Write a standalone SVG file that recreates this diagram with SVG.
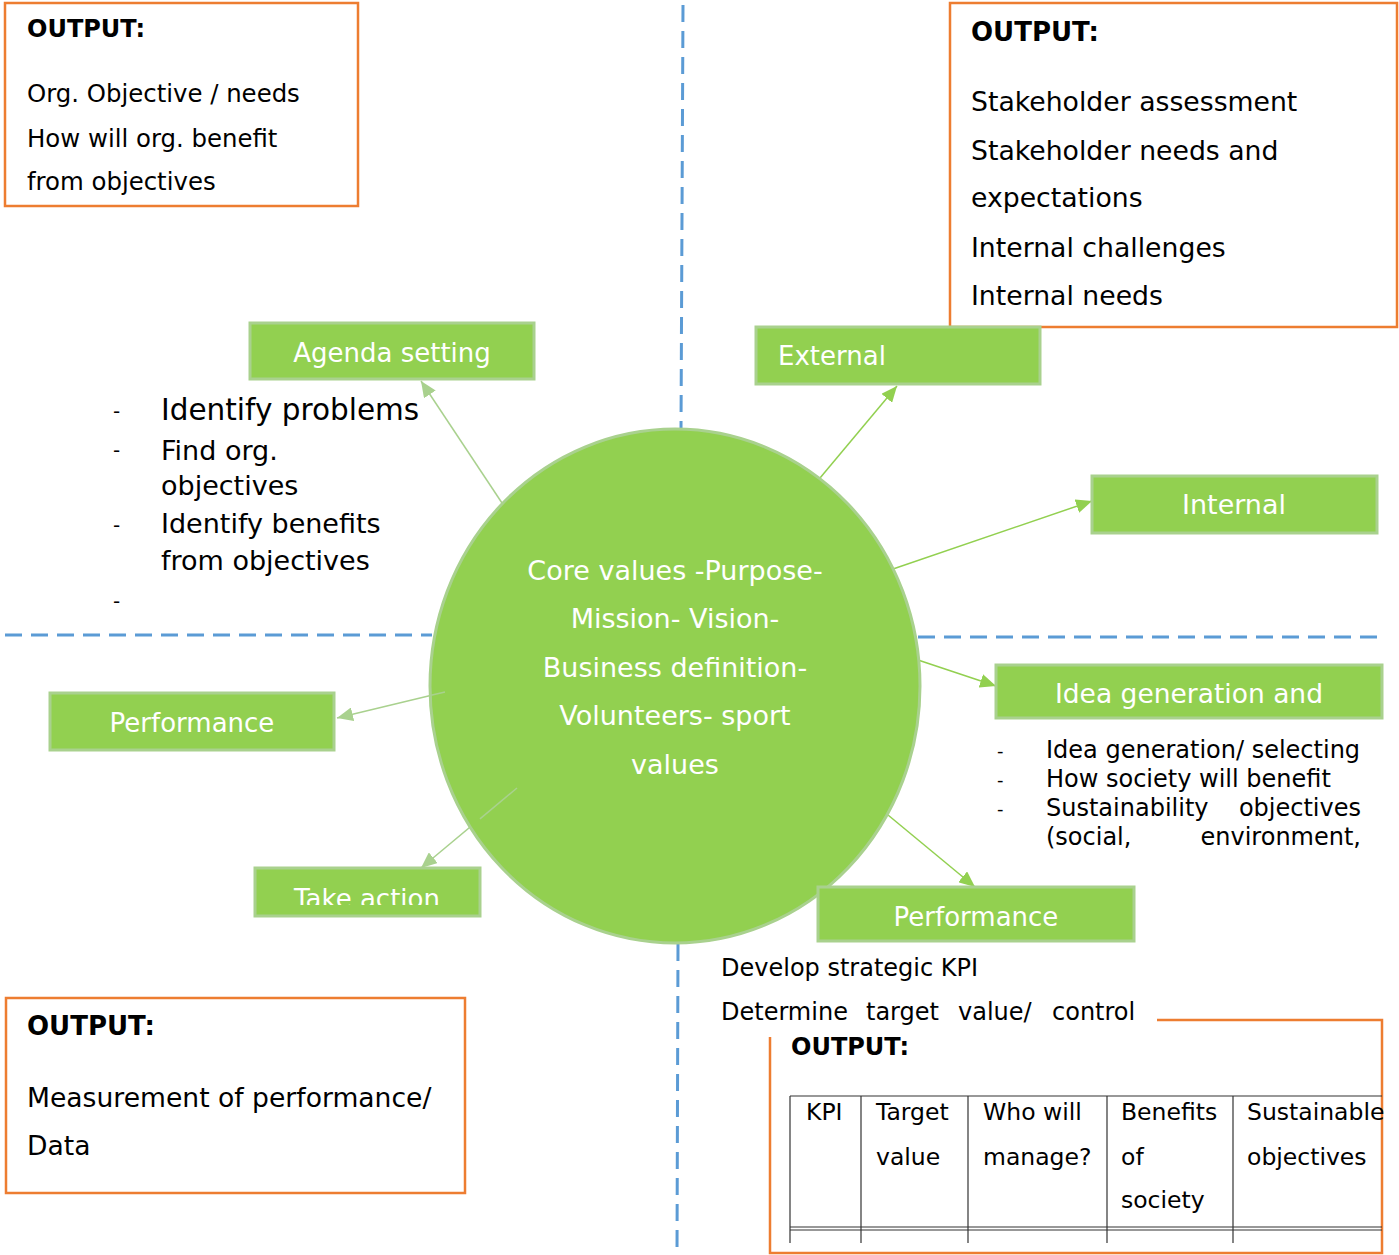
<svg xmlns="http://www.w3.org/2000/svg" width="1399" height="1255" viewBox="0 0 1399 1255">
<style>
text{font-family:"DejaVu Sans","Verdana",sans-serif;fill:#000}
.b{font-weight:bold}
.w{fill:#fff}
.box{fill:#92D050;stroke:#A9D18E;stroke-width:3}
.out{fill:none;stroke:#ED7D31;stroke-width:2.5}
.dash{stroke:#5B9BD5;stroke-width:3;stroke-dasharray:17 9;fill:none}
.a1{stroke:#92D050;stroke-width:1.5;fill:none}
.a2{stroke:#A9D18E;stroke-width:1.5;fill:none}
.tl{stroke:#333;stroke-width:1.2;fill:none}
</style>
<defs>
<marker id="h1" markerUnits="userSpaceOnUse" markerWidth="18" markerHeight="14" refX="16" refY="7" orient="auto"><path d="M0,0 L16,7 L0,14 Z" fill="#92D050"/></marker>
<marker id="h2" markerUnits="userSpaceOnUse" markerWidth="18" markerHeight="14" refX="16" refY="7" orient="auto"><path d="M0,0 L16,7 L0,14 Z" fill="#A9D18E"/></marker>
<clipPath id="ta"><rect x="255" y="868" width="226" height="37"/></clipPath>
</defs>

<g id="dividers">
<line class="dash" x1="683" y1="5" x2="681" y2="430"/>
<line class="dash" x1="678" y1="944" x2="677" y2="1255"/>
<line class="dash" x1="5" y1="635" x2="432" y2="635"/>
<line class="dash" x1="918" y1="637" x2="1385" y2="637"/>
</g>

<g id="out-tl">
<rect class="out" x="5" y="3" width="353" height="203"/>
<text class="b" x="27" y="37" font-size="24">OUTPUT:</text>
<text x="27" y="102" font-size="24.4">Org. Objective / needs</text>
<text x="27" y="147" font-size="24.4">How will org. benefit</text>
<text x="27" y="190" font-size="24.4">from objectives</text>
</g>

<g id="out-tr">
<rect class="out" x="950" y="3" width="447" height="324"/>
<text class="b" x="971" y="41" font-size="26">OUTPUT:</text>
<text x="971" y="111" font-size="26.7">Stakeholder assessment</text>
<text x="971" y="160" font-size="26.7">Stakeholder needs and</text>
<text x="971" y="207" font-size="26.7">expectations</text>
<text x="971" y="257" font-size="26.7">Internal challenges</text>
<text x="971" y="305" font-size="26.7">Internal needs</text>
</g>

<g id="out-bl">
<rect class="out" x="6" y="998" width="459" height="195"/>
<text class="b" x="27" y="1035" font-size="26">OUTPUT:</text>
<text x="27" y="1107" font-size="26.6">Measurement of performance/</text>
<text x="27" y="1155" font-size="26.6">Data</text>
</g>

<g id="connectors">
<line class="a2" x1="502" y1="503" x2="421" y2="381" marker-end="url(#h2)"/>
<line class="a1" x1="820" y1="478" x2="897" y2="386" marker-end="url(#h1)"/>
<line class="a1" x1="893" y1="569" x2="1092" y2="501" marker-end="url(#h1)"/>
<line class="a1" x1="918" y1="660" x2="996" y2="686" marker-end="url(#h1)"/>
<line class="a1" x1="888" y1="815" x2="975" y2="887" marker-end="url(#h1)"/>
<line class="a2" x1="445" y1="692" x2="337" y2="718" marker-end="url(#h2)"/>
<line class="a2" x1="517" y1="788" x2="421" y2="868" marker-end="url(#h2)"/>
</g>

<g id="core">
<ellipse cx="675" cy="686" rx="245" ry="257" fill="#92D050" stroke="#A9D18E" stroke-width="3"/>
<g font-size="27" text-anchor="middle">
<text class="w" x="675" y="580">Core values -Purpose-</text>
<text class="w" x="675" y="628">Mission- Vision-</text>
<text class="w" x="675" y="677">Business definition-</text>
<text class="w" x="675" y="725">Volunteers- sport</text>
<text class="w" x="675" y="774">values</text>
</g>
</g>
<g id="connectors-inner">
<line class="a2" x1="445" y1="692" x2="430" y2="695.5"/>
<line class="a2" x1="517" y1="788" x2="480" y2="818.8"/>
</g>

<g id="agenda">
<rect class="box" x="250" y="323" width="284" height="56"/>
<text class="w" x="392" y="362" font-size="26" text-anchor="middle">Agenda setting</text>
</g>
<g id="agenda-list">
<text x="113" y="418" font-size="20">-</text>
<text x="161" y="420" font-size="29.5">Identify problems</text>
<text x="113" y="457" font-size="20">-</text>
<text x="161" y="460" font-size="27">Find org.</text>
<text x="161" y="495" font-size="27">objectives</text>
<text x="113" y="532" font-size="20">-</text>
<text x="161" y="533" font-size="27">Identify benefits</text>
<text x="161" y="570" font-size="27">from objectives</text>
<text x="113" y="608" font-size="20">-</text>
</g>

<g id="external">
<rect class="box" x="756" y="327" width="284" height="57"/>
<text class="w" x="778" y="365" font-size="26">External</text>
</g>

<g id="internal">
<rect class="box" x="1092" y="476" width="285" height="57"/>
<text class="w" x="1234" y="514" font-size="27" text-anchor="middle">Internal</text>
</g>

<g id="idea">
<rect class="box" x="996" y="665" width="386" height="53"/>
<text class="w" x="1189" y="703" font-size="26.5" text-anchor="middle">Idea generation and</text>
</g>
<g id="idea-list" font-size="24">
<text x="997" y="757" font-size="18">-</text>
<text x="1046" y="758">Idea generation/ selecting</text>
<text x="997" y="786" font-size="18">-</text>
<text x="1046" y="787">How society will benefit</text>
<text x="997" y="815" font-size="18">-</text>
<text x="1046" y="816">Sustainability</text>
<text x="1361" y="816" text-anchor="end">objectives</text>
<text x="1046" y="845">(social,</text>
<text x="1361" y="845" text-anchor="end">environment,</text>
</g>

<g id="perf-right">
<rect class="box" x="818" y="887" width="316" height="54"/>
<text class="w" x="976" y="926" font-size="26" text-anchor="middle">Performance</text>
</g>
<g id="perf-list" font-size="24">
<text x="721" y="976">Develop strategic KPI</text>
<text x="721" y="1020">Determine</text>
<text x="866" y="1020">target</text>
<text x="958" y="1020">value/</text>
<text x="1052" y="1020">control</text>
</g>

<g id="perf-left">
<rect class="box" x="50" y="693" width="284" height="57"/>
<text class="w" x="192" y="732" font-size="26" text-anchor="middle">Performance</text>
</g>

<g id="take-action">
<rect class="box" x="255" y="868" width="225" height="48"/>
<text class="w" x="367" y="908" font-size="26" text-anchor="middle" clip-path="url(#ta)">Take action</text>
</g>

<g id="out-br">
<path class="out" d="M1157,1020 H1382 V1253 H770 V1037"/>
<text class="b" x="791" y="1055" font-size="24">OUTPUT:</text>
<g class="table">
<line class="tl" x1="790" y1="1096" x2="1382" y2="1096"/>
<line class="tl" x1="790" y1="1227" x2="1382" y2="1227"/>
<line class="tl" x1="790" y1="1230" x2="1382" y2="1230"/>
<line class="tl" x1="790" y1="1096" x2="790" y2="1243"/>
<line class="tl" x1="861" y1="1096" x2="861" y2="1243"/>
<line class="tl" x1="968" y1="1096" x2="968" y2="1243"/>
<line class="tl" x1="1107" y1="1096" x2="1107" y2="1243"/>
<line class="tl" x1="1233" y1="1096" x2="1233" y2="1243"/>
</g>
<g font-size="23.5">
<text x="806" y="1120">KPI</text>
<text x="876" y="1120">Target</text>
<text x="876" y="1165">value</text>
<text x="983" y="1120">Who will</text>
<text x="983" y="1165">manage?</text>
<text x="1121" y="1120">Benefits</text>
<text x="1121" y="1165">of</text>
<text x="1121" y="1208">society</text>
<text x="1247" y="1120">Sustainable</text>
<text x="1247" y="1165">objectives</text>
</g>
</g>
</svg>
